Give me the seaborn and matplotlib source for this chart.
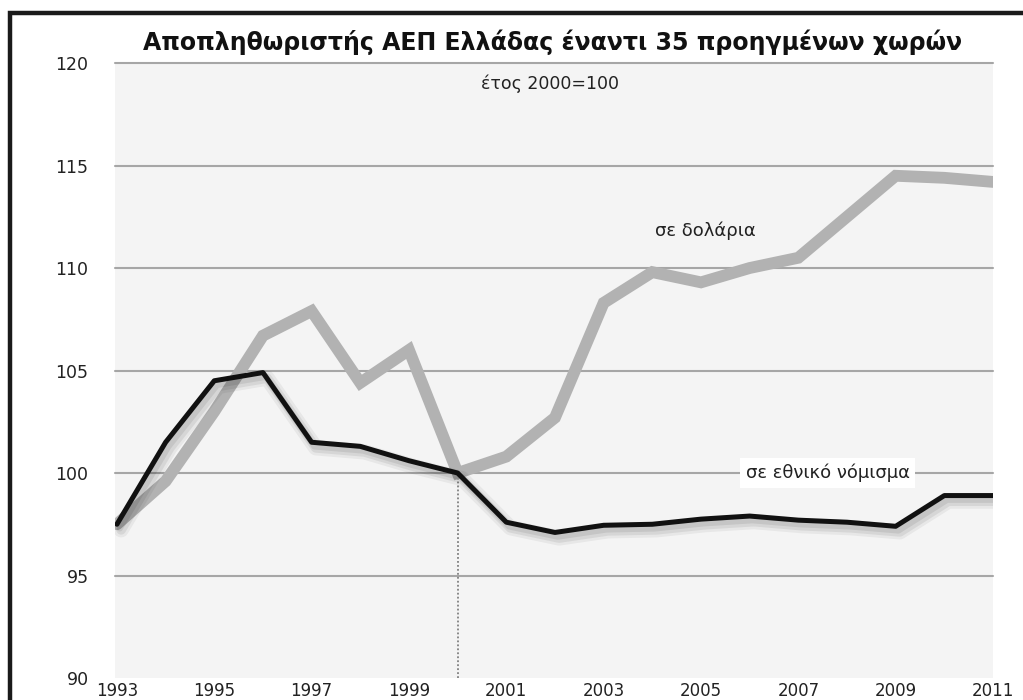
import numpy as np
import pandas as pd
import matplotlib
matplotlib.use("Agg")
import matplotlib.pyplot as plt
import matplotlib.patheffects as pe
from matplotlib.patches import Rectangle
import seaborn as sns

# ---- data ----
years = [1993, 1994, 1995, 1996, 1997, 1998, 1999, 2000, 2001, 2002,
         2003, 2004, 2005, 2006, 2007, 2008, 2009, 2010, 2011]
usd_values = [97.5, 99.6, 103.0, 106.7, 107.9, 104.4, 106.0, 100.0, 100.8, 102.7,
              108.3, 109.8, 109.3, 110.0, 110.5, 112.5, 114.5, 114.4, 114.2]
national_values = [97.5, 101.5, 104.5, 104.9, 101.5, 101.3, 100.6, 100.0, 97.6, 97.1,
                   97.45, 97.5, 97.75, 97.9, 97.7, 97.6, 97.4, 98.9, 98.9]
y_ticks = [90, 95, 100, 105, 110, 115, 120]
x_ticks = [1993, 1995, 1997, 1999, 2001, 2003, 2005, 2007, 2009, 2011]
title = "Αποπληθωριστής ΑΕΠ Ελλάδας έναντι 35 προηγμένων χωρών"
subtitle = "έτος 2000=100"
label_usd = "σε δολάρια"
label_nat = "σε εθνικό νόμισμα"

sns.set_theme(style="white")
plt.rcParams["font.family"] = ["DejaVu Sans"]

df_usd = pd.DataFrame({"year": years, "value": usd_values})
df_nat = pd.DataFrame({"year": years, "value": national_values})

fig = plt.figure(figsize=(10.23, 7.0), dpi=100)
fig.patch.set_facecolor("white")
ax = fig.add_axes([115/1023, 1 - 678/700, (993-115)/1023, (678-62)/700])
ax.set_facecolor("#f4f4f4")

sns.lineplot(data=df_usd, x="year", y="value", ax=ax, color="#b2b2b2",
             linewidth=8.5, solid_joinstyle="miter", zorder=3)
sns.lineplot(data=df_nat, x="year", y="value", ax=ax, color="#111111",
             linewidth=3.6, zorder=4,
             path_effects=[pe.SimpleLineShadow(offset=(3, -4), shadow_color="black",
                                               alpha=0.05, linewidth=11),
                           pe.SimpleLineShadow(offset=(3, -4), shadow_color="black",
                                               alpha=0.07, linewidth=7),
                           pe.SimpleLineShadow(offset=(2, -3), shadow_color="black",
                                               alpha=0.08, linewidth=4.5),
                           pe.Normal()])

# dotted reference line at 2000
ax.plot([2000, 2000], [90, 100], color="#808080", linestyle=(0, (1, 1.2)),
        linewidth=1.3, zorder=2)

ax.set_xlim(1992.96, 2011)
ax.set_ylim(90, 120.05)
ax.set_yticks(y_ticks)
ax.set_xticks(x_ticks)
ax.set_yticklabels([str(v) for v in y_ticks], fontsize=12.5, color="#222222")
ax.set_xticklabels([str(v) for v in x_ticks], fontsize=12, color="#222222")
ax.tick_params(axis="y", length=0, pad=19)
ax.tick_params(axis="x", length=0, pad=3)
ax.set_xlabel("")
ax.set_ylabel("")
ax.yaxis.grid(True, color="#a6a6a6", linewidth=1.5, zorder=1)
ax.xaxis.grid(False)
for gl in ax.get_ygridlines():
    gl.set_clip_on(False)
ax.get_ygridlines()[0].set_visible(False)
for s in ax.spines.values():
    s.set_visible(False)

ax.text(2005.1, 111.8, label_usd, fontsize=13, color="#222222",
        ha="center", va="center", zorder=5)
ax.text(2007.6, 100.0, label_nat, fontsize=13, color="#222222",
        ha="center", va="center", zorder=5,
        bbox=dict(facecolor="white", edgecolor="none", pad=4))
ax.text(2001.9, 119.0, subtitle, fontsize=12.5, color="#222222",
        ha="center", va="center", zorder=5)

fig.text(553/1023, 1 - 42/700, title, fontsize=17, fontweight="bold",
         color="#111111", ha="center", va="center")

# outer frame
fig.patches.append(Rectangle((10/1023, -0.05), 1.1, 0.05 + (1 - 13/700),
                             transform=fig.transFigure, fill=False,
                             edgecolor="#1a1a1a", linewidth=3.2, zorder=10))

fig.savefig("out.png", dpi=100)
